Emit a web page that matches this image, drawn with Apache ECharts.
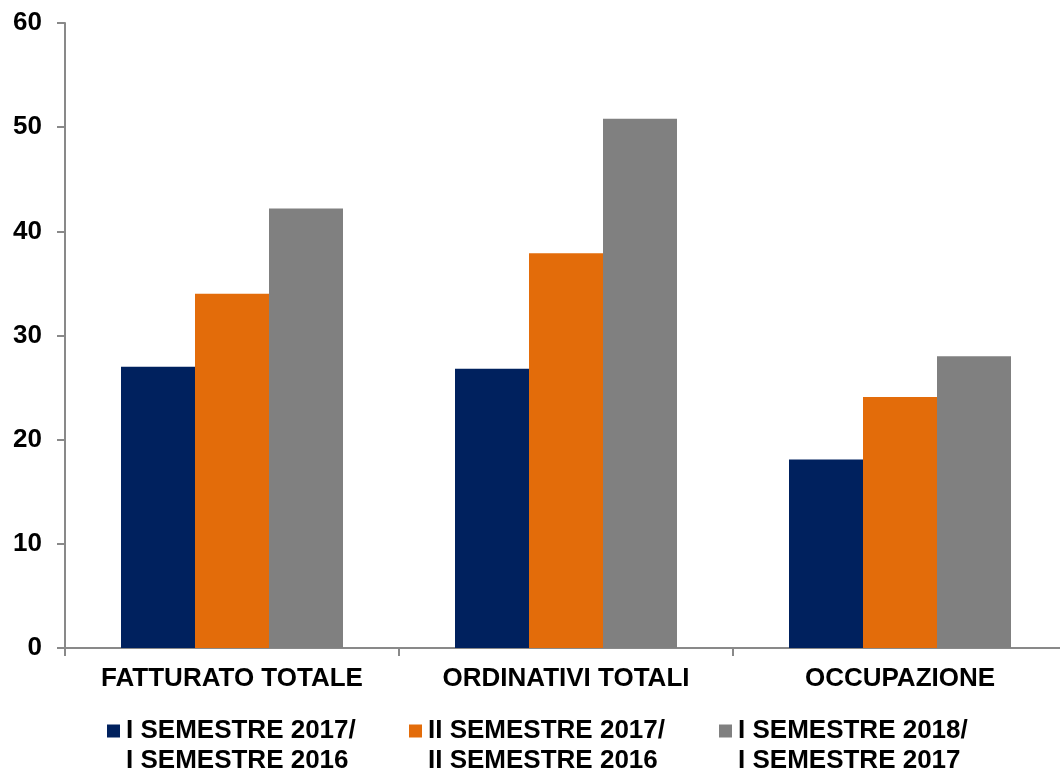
<!DOCTYPE html>
<html>
<head>
<meta charset="utf-8">
<script src="https://cdn.jsdelivr.net/npm/echarts@6/dist/echarts.min.js"></script>
<style>html,body{margin:0;padding:0;background:#fff;overflow:hidden;width:1060px;height:769px}#c{width:1067px;height:769px}</style>
</head>
<body>
<div id="c"></div>
<script>
const categories = ['FATTURATO TOTALE', 'ORDINATIVI TOTALI', 'OCCUPAZIONE'];
const seriesNames = ['I SEMESTRE 2017/\nI SEMESTRE 2016', 'II SEMESTRE 2017/\nII SEMESTRE 2016', 'I SEMESTRE 2018/\nI SEMESTRE 2017'];
const s1 = [27.0, 26.8, 18.1];
const s2 = [34.0, 37.9, 24.1];
const s3 = [42.2, 50.8, 28.0];
const colors = ['#00215E', '#E36C0A', '#808080'];
const yMin = 0, yMax = 60, yStep = 10;

const FONT = "'Liberation Sans', Arial, sans-serif";
const values = [s1, s2, s3];
const chart = echarts.init(document.getElementById('c'));
const legendLefts = [102, 404, 714];
chart.setOption({
  animation: false,
  backgroundColor: '#fff',
  grid: { left: 65, top: 23, right: 0, height: 625, containLabel: false },
  xAxis: {
    type: 'category', data: categories,
    axisLine: { lineStyle: { color: '#898989', width: 2 } },
    axisTick: { show: true, length: 8, lineStyle: { color: '#898989', width: 2 } },
    axisLabel: { interval: 0, color: '#000', fontFamily: FONT, fontWeight: 'bold', fontSize: 26, margin: 18 }
  },
  yAxis: {
    type: 'value', min: yMin, max: yMax, interval: yStep,
    splitLine: { show: false },
    axisLine: { show: true, lineStyle: { color: '#898989', width: 2 } },
    axisTick: { show: true, length: 8, lineStyle: { color: '#898989', width: 2 } },
    axisLabel: { color: '#000', fontFamily: FONT, fontWeight: 'bold', fontSize: 26, margin: 23 }
  },
  legend: seriesNames.map((n, i) => ({
    data: [n], left: legendLefts[i], top: 718, padding: 0,
    itemWidth: 0, itemHeight: 0, itemGap: 0, icon: 'rect', selectedMode: false,
    formatter: (name) => {
      const lines = name.split('\n');
      return '{m' + i + '|}{g|}{t|' + lines[0] + '}\n{s|}{t|' + lines[1] + '}';
    },
    textStyle: {
      rich: {
        ['m' + i]: { width: 13, height: 13, backgroundColor: colors[i] },
        g: { width: 6 },
        s: { width: 19 },
        t: { fontFamily: FONT, fontWeight: 'bold', fontSize: 26, color: '#000', lineHeight: 30 }
      }
    }
  })),
  series: seriesNames.map((n, i) => ({
    name: n, type: 'bar', data: values[i],
    barWidth: 74, barGap: '0%',
    itemStyle: { color: colors[i] }
  }))
});
</script>
</body>
</html>
